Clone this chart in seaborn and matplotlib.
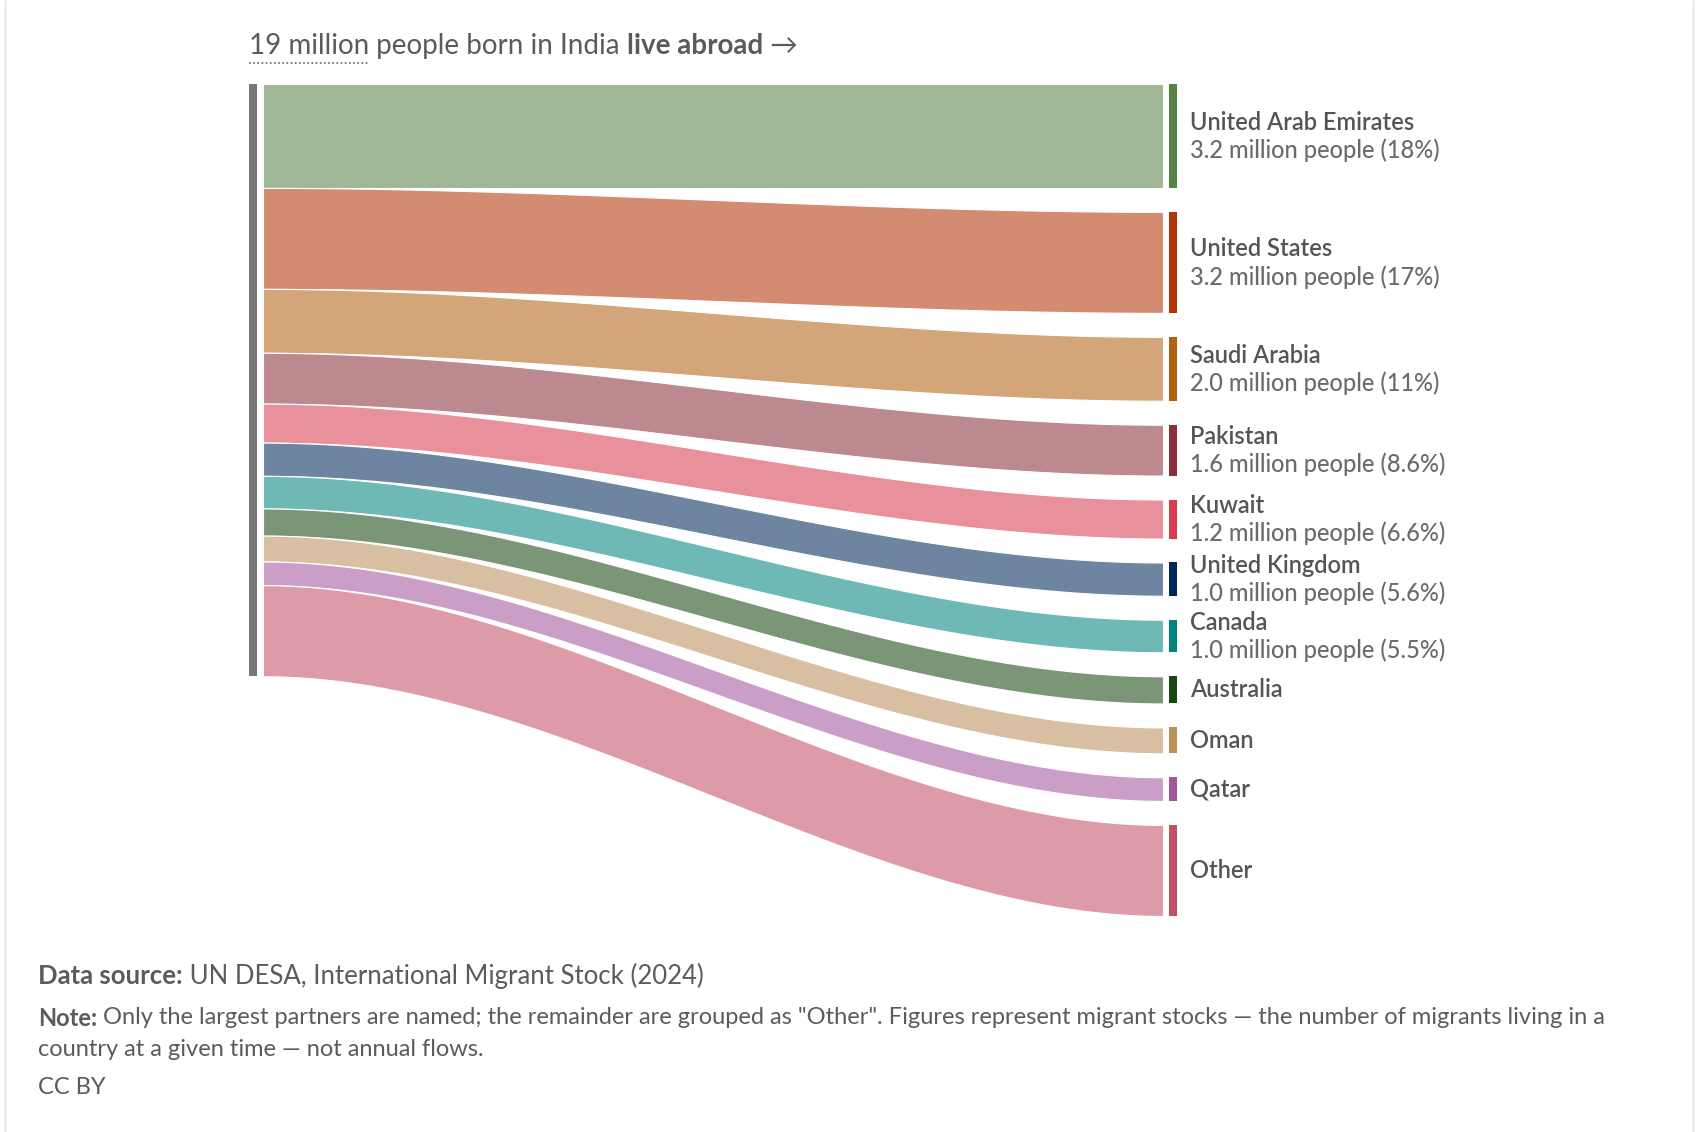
import numpy as np
import matplotlib.pyplot as plt
from matplotlib.lines import Line2D
import seaborn as sns

# --- data (millions of people born in India, by country of residence) ---
countries = ["United Arab Emirates", "United States", "Saudi Arabia", "Pakistan", "Kuwait",
             "United Kingdom", "Canada", "Australia", "Oman", "Qatar", "Other"]
millions = [3.25, 3.16, 2.00, 1.59, 1.22, 1.04, 1.02, 0.85, 0.81, 0.74, 2.85]
detail = ["3.2 million people (18%)", "3.2 million people (17%)", "2.0 million people (11%)",
          "1.6 million people (8.6%)", "1.2 million people (6.6%)", "1.0 million people (5.6%)",
          "1.0 million people (5.5%)", "", "", "", ""]
bar_hex = ["#578145", "#B13507", "#B16214", "#883039", "#D73C50", "#00295B",
           "#00847E", "#18470F", "#BC8E5A", "#A2559C", "#C15065"]

sns.set_theme(style="white")
FONT = ["Lato", "DejaVu Sans"]
plt.rcParams["font.family"] = FONT

bar_cols = sns.color_palette(bar_hex)
# flows are the node colour faded on white
flow_cols = [tuple(1 - 0.57 * (1 - np.array(c))) for c in bar_cols]

W, H = 1696, 1132
fig = plt.figure(figsize=(W / 100, H / 100), dpi=100)
fig.patch.set_facecolor("white")

# sankey area: px 249..1177 horizontally, 84..916 vertically
ax = fig.add_axes([249 / W, 1 - 916 / H, 928 / W, 832 / H])
ax.set_axis_off()

vals = np.array(millions)
total = vals.sum()
gap = 0.75
left_top = np.concatenate([[0], np.cumsum(vals)[:-1]])
right_top = left_top + gap * np.arange(len(vals))
span = right_top[-1] + vals[-1]
ax.set_xlim(0, 928)
ax.set_ylim(span, 0)

# source node
ax.fill_between([0, 8], 0, total, color="#777777", lw=0)

x0, x1 = 14, 914
xs = np.linspace(x0, x1, 300)
t = (xs - x0) / (x1 - x0)
s = 3 * t ** 2 - 2 * t ** 3
for i in range(len(vals)):
    top = left_top[i] + (right_top[i] - left_top[i]) * s
    bot = top + vals[i]
    ax.fill_between(xs, top, bot, facecolor=flow_cols[i], edgecolor="white", lw=0.8)
    ax.fill_between([920, 928], right_top[i], right_top[i] + vals[i], color=bar_cols[i], lw=0)

    c = right_top[i] + vals[i] / 2
    if detail[i]:
        ax.text(941, c - 0.42, countries[i], fontsize=17, fontweight="semibold",
                color="#555555", va="center", ha="left", clip_on=False)
        ax.text(941, c + 0.45, detail[i], fontsize=17, fontweight="medium", color="#6b6b6b",
                va="center", ha="left", clip_on=False)
    else:
        ax.text(941, c, countries[i], fontsize=17, fontweight="semibold",
                color="#555555", va="center", ha="left", clip_on=False)

renderer = fig.canvas.get_renderer()


def run_text(x_px, y_px, parts, size, color="#5b5b5b"):
    """write text pieces one after another on one line"""
    x = x_px / W
    extents = []
    for txt, weight in parts:
        tt = fig.text(x, 1 - y_px / H, txt, fontsize=size, fontweight=weight,
                      color=color, va="center", ha="left", family=FONT)
        bb = tt.get_window_extent(renderer)
        extents.append((bb.x0, bb.x1))
        x = bb.x1 / W
    return extents


ext = run_text(249, 46, [("19 million", "normal"), (" people born in India ", "normal"),
                         ("live abroad", "bold"), (" →", "normal")], 20)
fig.add_artist(Line2D([ext[0][0] / W, ext[0][1] / W], [1 - 63 / H, 1 - 63 / H],
                      color="#666666", lw=1.2, ls=(0, (1, 1.5)), transform=fig.transFigure))

run_text(38, 976, [("Data source:", "bold"), (" UN DESA, International Migrant Stock (2024)", "normal")], 18.5)
run_text(38, 1018, [("Note:", "bold"),
                    (" Only the largest partners are named; the remainder are grouped as \"Other\". "
                     "Figures represent migrant stocks — the number of migrants living in a", "normal")], 17)
run_text(38, 1049, [("country at a given time — not annual flows.", "normal")], 17)
run_text(38, 1087, [("CC BY", "normal")], 17)

# thin frame lines at the sides
for xp in (5, 1693):
    fig.add_artist(Line2D([xp / W, xp / W], [0, 1], color="#e4e4e4", lw=1, transform=fig.transFigure))

fig.savefig("out.png", dpi=100)
